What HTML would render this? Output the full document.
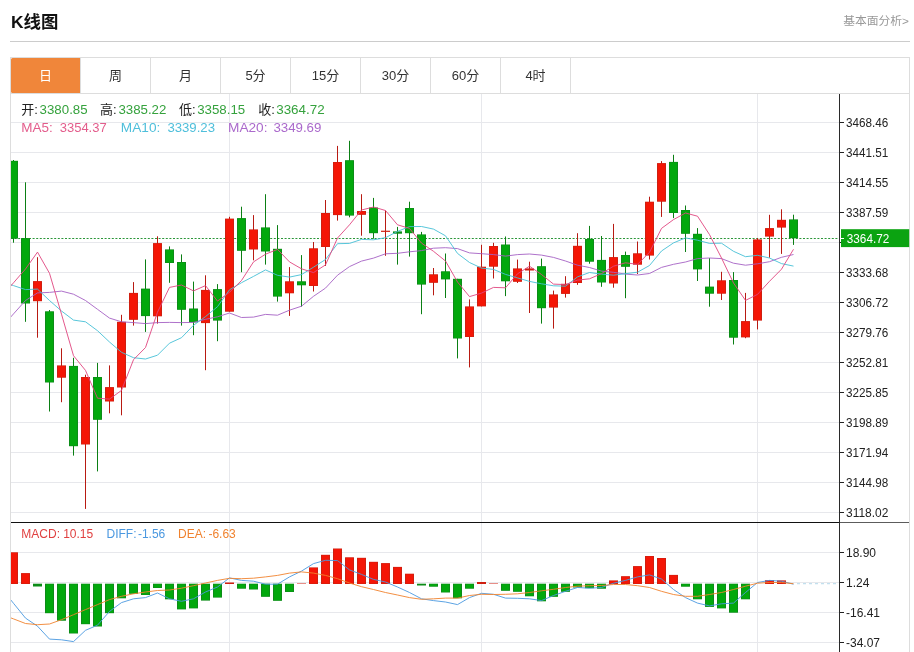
<!DOCTYPE html>
<html lang="zh"><head><meta charset="utf-8"><title>K线图</title>
<style>
html,body{margin:0;padding:0;background:#fff;}
body{width:914px;height:652px;overflow:hidden;position:relative;font-family:"Liberation Sans","Noto Sans CJK SC",sans-serif;}
.title{position:absolute;left:11px;top:11px;font-size:17.4px;font-weight:bold;color:#111;line-height:22px;white-space:nowrap;}
.more{position:absolute;right:5px;top:12px;font-size:11.8px;color:#999;line-height:18px;white-space:nowrap;}
.hr{position:absolute;left:10px;top:41px;width:900px;height:1px;background:#ccc;}
.box{position:absolute;left:10px;top:57px;width:898px;height:600px;border:1px solid #ddd;}
.tabs{position:absolute;left:0;top:0;width:898px;height:35px;border-bottom:1px solid #ddd;}
.tab{position:absolute;top:0;width:69px;height:35px;border-right:1px solid #ddd;text-align:center;line-height:36px;font-size:13px;color:#333;}
.tab.on{color:#fff;}
.onbg{position:absolute;left:0;top:-0.5px;width:69px;height:35.3px;background:#f0863a;border-radius:1.5px 0 0 1.5px;}
svg{position:absolute;left:0;top:0;}
.ax{font-family:"Liberation Sans",sans-serif;font-size:12px;fill:#222;}
.inf{font-family:"Liberation Sans","Noto Sans CJK SC",sans-serif;font-size:13px;}
.inf3{font-family:"Liberation Sans","Noto Sans CJK SC",sans-serif;font-size:13.5px;}
.inf2{font-family:"Liberation Sans","Noto Sans CJK SC",sans-serif;font-size:12px;}
</style></head><body>
<div class="title">K线图</div>
<div class="more">基本面分析&gt;</div>
<div class="hr"></div>
<div class="box"><div class="tabs"><div class="onbg"></div><div class="tab on" style="left:0px">日</div><div class="tab" style="left:70px">周</div><div class="tab" style="left:140px">月</div><div class="tab" style="left:210px">5分</div><div class="tab" style="left:280px">15分</div><div class="tab" style="left:350px">30分</div><div class="tab" style="left:420px">60分</div><div class="tab" style="left:490px">4时</div></div></div>
<svg width="914" height="652" viewBox="0 0 914 652">
<defs><clipPath id="cl"><rect x="11" y="94" width="828" height="558"/></clipPath></defs>
<rect x="11" y="122" width="828" height="1" fill="#e7e8ec"/>
<rect x="11" y="152" width="828" height="1" fill="#e7e8ec"/>
<rect x="11" y="182" width="828" height="1" fill="#e7e8ec"/>
<rect x="11" y="212" width="828" height="1" fill="#e7e8ec"/>
<rect x="11" y="242" width="828" height="1" fill="#e7e8ec"/>
<rect x="11" y="272" width="828" height="1" fill="#e7e8ec"/>
<rect x="11" y="302" width="828" height="1" fill="#e7e8ec"/>
<rect x="11" y="332" width="828" height="1" fill="#e7e8ec"/>
<rect x="11" y="362" width="828" height="1" fill="#e7e8ec"/>
<rect x="11" y="392" width="828" height="1" fill="#e7e8ec"/>
<rect x="11" y="422" width="828" height="1" fill="#e7e8ec"/>
<rect x="11" y="452" width="828" height="1" fill="#e7e8ec"/>
<rect x="11" y="482" width="828" height="1" fill="#e7e8ec"/>
<rect x="11" y="512" width="828" height="1" fill="#e7e8ec"/>
<rect x="11" y="552" width="828" height="1" fill="#e7e8ec"/>
<rect x="11" y="582" width="828" height="1" fill="#e7e8ec"/>
<rect x="11" y="612" width="828" height="1" fill="#e7e8ec"/>
<rect x="11" y="642" width="828" height="1" fill="#e7e8ec"/>
<rect x="229" y="94" width="1" height="558" fill="#e7e8ec"/>
<rect x="481" y="94" width="1" height="558" fill="#e7e8ec"/>
<rect x="757" y="94" width="1" height="558" fill="#e7e8ec"/>
<line x1="11" y1="238.5" x2="840" y2="238.5" stroke="#2a9638" stroke-width="1" stroke-dasharray="2 1.6"/>
<g clip-path="url(#cl)">
<rect x="13.0" y="160.0" width="1" height="82.7" fill="#0b7f14"/>
<rect x="9.0" y="160.8" width="9" height="77.8" fill="#0c8c18"/>
<rect x="10.0" y="161.4" width="7" height="76.6" fill="#02a80d"/>
<rect x="25.0" y="182.3" width="1" height="139.5" fill="#0b7f14"/>
<rect x="21.0" y="238.1" width="9" height="65.4" fill="#0c8c18"/>
<rect x="22.0" y="238.7" width="7" height="64.2" fill="#02a80d"/>
<rect x="37.0" y="257.2" width="1" height="80.5" fill="#b81a12"/>
<rect x="33.0" y="281.1" width="9" height="20.1" fill="#cf1f10"/>
<rect x="34.0" y="281.7" width="7" height="18.9" fill="#f41606"/>
<rect x="49.0" y="310.0" width="1" height="101.5" fill="#0b7f14"/>
<rect x="45.0" y="311.3" width="9" height="71.2" fill="#0c8c18"/>
<rect x="46.0" y="311.9" width="7" height="70.0" fill="#02a80d"/>
<rect x="61.0" y="348.3" width="1" height="53.9" fill="#b81a12"/>
<rect x="57.0" y="365.4" width="9" height="12.3" fill="#cf1f10"/>
<rect x="58.0" y="366.0" width="7" height="11.1" fill="#f41606"/>
<rect x="73.0" y="357.8" width="1" height="97.8" fill="#0b7f14"/>
<rect x="69.0" y="365.9" width="9" height="80.3" fill="#0c8c18"/>
<rect x="70.0" y="366.5" width="7" height="79.1" fill="#02a80d"/>
<rect x="85.0" y="374.7" width="1" height="134.2" fill="#b81a12"/>
<rect x="81.0" y="377.0" width="9" height="67.5" fill="#cf1f10"/>
<rect x="82.0" y="377.6" width="7" height="66.3" fill="#f41606"/>
<rect x="97.0" y="362.9" width="1" height="108.5" fill="#0b7f14"/>
<rect x="93.0" y="377.0" width="9" height="42.8" fill="#0c8c18"/>
<rect x="94.0" y="377.6" width="7" height="41.6" fill="#02a80d"/>
<rect x="109.0" y="365.4" width="1" height="47.9" fill="#b81a12"/>
<rect x="105.0" y="387.1" width="9" height="14.4" fill="#cf1f10"/>
<rect x="106.0" y="387.7" width="7" height="13.2" fill="#f41606"/>
<rect x="121.0" y="314.8" width="1" height="100.5" fill="#b81a12"/>
<rect x="117.0" y="321.8" width="9" height="65.7" fill="#cf1f10"/>
<rect x="118.0" y="322.4" width="7" height="64.5" fill="#f41606"/>
<rect x="133.0" y="282.1" width="1" height="43.5" fill="#b81a12"/>
<rect x="129.0" y="292.9" width="9" height="26.9" fill="#cf1f10"/>
<rect x="130.0" y="293.5" width="7" height="25.7" fill="#f41606"/>
<rect x="145.0" y="259.4" width="1" height="72.5" fill="#0b7f14"/>
<rect x="141.0" y="288.6" width="9" height="27.5" fill="#0c8c18"/>
<rect x="142.0" y="289.2" width="7" height="26.3" fill="#02a80d"/>
<rect x="157.0" y="236.3" width="1" height="87.3" fill="#b81a12"/>
<rect x="153.0" y="243.1" width="9" height="73.2" fill="#cf1f10"/>
<rect x="154.0" y="243.7" width="7" height="72.0" fill="#f41606"/>
<rect x="169.0" y="246.4" width="1" height="36.4" fill="#0b7f14"/>
<rect x="165.0" y="249.4" width="9" height="13.6" fill="#0c8c18"/>
<rect x="166.0" y="250.0" width="7" height="12.4" fill="#02a80d"/>
<rect x="181.0" y="254.4" width="1" height="71.2" fill="#0b7f14"/>
<rect x="177.0" y="262.0" width="9" height="47.8" fill="#0c8c18"/>
<rect x="178.0" y="262.6" width="7" height="46.6" fill="#02a80d"/>
<rect x="193.0" y="281.6" width="1" height="53.6" fill="#0b7f14"/>
<rect x="189.0" y="308.5" width="9" height="13.9" fill="#0c8c18"/>
<rect x="190.0" y="309.1" width="7" height="12.7" fill="#02a80d"/>
<rect x="205.0" y="275.3" width="1" height="94.9" fill="#b81a12"/>
<rect x="201.0" y="289.9" width="9" height="33.2" fill="#cf1f10"/>
<rect x="202.0" y="290.5" width="7" height="32.0" fill="#f41606"/>
<rect x="217.0" y="284.1" width="1" height="57.1" fill="#0b7f14"/>
<rect x="213.0" y="289.1" width="9" height="31.5" fill="#0c8c18"/>
<rect x="214.0" y="289.7" width="7" height="30.3" fill="#02a80d"/>
<rect x="229.0" y="216.8" width="1" height="94.9" fill="#b81a12"/>
<rect x="225.0" y="218.6" width="9" height="93.1" fill="#cf1f10"/>
<rect x="226.0" y="219.2" width="7" height="91.9" fill="#f41606"/>
<rect x="241.0" y="206.7" width="1" height="65.5" fill="#0b7f14"/>
<rect x="237.0" y="218.1" width="9" height="32.7" fill="#0c8c18"/>
<rect x="238.0" y="218.7" width="7" height="31.5" fill="#02a80d"/>
<rect x="253.0" y="215.1" width="1" height="45.2" fill="#b81a12"/>
<rect x="249.0" y="229.4" width="9" height="20.1" fill="#cf1f10"/>
<rect x="250.0" y="230.0" width="7" height="18.9" fill="#f41606"/>
<rect x="265.0" y="194.2" width="1" height="70.4" fill="#0b7f14"/>
<rect x="261.0" y="227.4" width="9" height="24.1" fill="#0c8c18"/>
<rect x="262.0" y="228.0" width="7" height="22.9" fill="#02a80d"/>
<rect x="277.0" y="225.1" width="1" height="76.5" fill="#0b7f14"/>
<rect x="273.0" y="248.8" width="9" height="47.8" fill="#0c8c18"/>
<rect x="274.0" y="249.4" width="7" height="46.6" fill="#02a80d"/>
<rect x="289.0" y="267.1" width="1" height="48.8" fill="#b81a12"/>
<rect x="285.0" y="281.3" width="9" height="12.0" fill="#cf1f10"/>
<rect x="286.0" y="281.9" width="7" height="10.8" fill="#f41606"/>
<rect x="301.0" y="255.1" width="1" height="51.5" fill="#0b7f14"/>
<rect x="297.0" y="281.3" width="9" height="4.0" fill="#0c8c18"/>
<rect x="298.0" y="281.9" width="7" height="2.8" fill="#02a80d"/>
<rect x="313.0" y="242.0" width="1" height="49.5" fill="#b81a12"/>
<rect x="309.0" y="248.3" width="9" height="37.7" fill="#cf1f10"/>
<rect x="310.0" y="248.9" width="7" height="36.5" fill="#f41606"/>
<rect x="325.0" y="200.0" width="1" height="65.9" fill="#b81a12"/>
<rect x="321.0" y="213.0" width="9" height="34.0" fill="#cf1f10"/>
<rect x="322.0" y="213.6" width="7" height="32.8" fill="#f41606"/>
<rect x="337.0" y="145.9" width="1" height="74.7" fill="#b81a12"/>
<rect x="333.0" y="162.0" width="9" height="53.1" fill="#cf1f10"/>
<rect x="334.0" y="162.6" width="7" height="51.9" fill="#f41606"/>
<rect x="349.0" y="140.8" width="1" height="76.5" fill="#0b7f14"/>
<rect x="345.0" y="160.2" width="9" height="55.4" fill="#0c8c18"/>
<rect x="346.0" y="160.8" width="7" height="54.2" fill="#02a80d"/>
<rect x="361.0" y="194.2" width="1" height="41.5" fill="#b81a12"/>
<rect x="357.0" y="211.0" width="9" height="3.8" fill="#cf1f10"/>
<rect x="358.0" y="211.6" width="7" height="2.6" fill="#f41606"/>
<rect x="373.0" y="197.9" width="1" height="40.8" fill="#0b7f14"/>
<rect x="369.0" y="207.5" width="9" height="25.7" fill="#0c8c18"/>
<rect x="370.0" y="208.1" width="7" height="24.5" fill="#02a80d"/>
<rect x="385.0" y="210.5" width="1" height="45.3" fill="#b81a12"/>
<rect x="381.0" y="230.7" width="9" height="1.2" fill="#cf1f10"/>
<rect x="397.0" y="226.9" width="1" height="37.7" fill="#0b7f14"/>
<rect x="393.0" y="231.4" width="9" height="2.3" fill="#0c8c18"/>
<rect x="409.0" y="201.7" width="1" height="54.9" fill="#0b7f14"/>
<rect x="405.0" y="208.0" width="9" height="25.2" fill="#0c8c18"/>
<rect x="406.0" y="208.6" width="7" height="24.0" fill="#02a80d"/>
<rect x="421.0" y="231.9" width="1" height="82.3" fill="#0b7f14"/>
<rect x="417.0" y="234.4" width="9" height="50.2" fill="#0c8c18"/>
<rect x="418.0" y="235.0" width="7" height="49.0" fill="#02a80d"/>
<rect x="433.0" y="268.0" width="1" height="27.3" fill="#b81a12"/>
<rect x="429.0" y="274.3" width="9" height="8.5" fill="#cf1f10"/>
<rect x="430.0" y="274.9" width="7" height="7.3" fill="#f41606"/>
<rect x="445.0" y="253.5" width="1" height="44.5" fill="#0b7f14"/>
<rect x="441.0" y="271.3" width="9" height="8.1" fill="#0c8c18"/>
<rect x="442.0" y="271.9" width="7" height="6.9" fill="#02a80d"/>
<rect x="457.0" y="278.8" width="1" height="79.6" fill="#0b7f14"/>
<rect x="453.0" y="278.8" width="9" height="59.7" fill="#0c8c18"/>
<rect x="454.0" y="279.4" width="7" height="58.5" fill="#02a80d"/>
<rect x="469.0" y="299.4" width="1" height="68.0" fill="#b81a12"/>
<rect x="465.0" y="306.4" width="9" height="30.6" fill="#cf1f10"/>
<rect x="466.0" y="307.0" width="7" height="29.4" fill="#f41606"/>
<rect x="481.0" y="244.8" width="1" height="61.6" fill="#b81a12"/>
<rect x="477.0" y="266.7" width="9" height="39.7" fill="#cf1f10"/>
<rect x="478.0" y="267.3" width="7" height="38.5" fill="#f41606"/>
<rect x="493.0" y="242.8" width="1" height="35.7" fill="#b81a12"/>
<rect x="489.0" y="246.0" width="9" height="20.7" fill="#cf1f10"/>
<rect x="490.0" y="246.6" width="7" height="19.5" fill="#f41606"/>
<rect x="505.0" y="236.5" width="1" height="59.6" fill="#0b7f14"/>
<rect x="501.0" y="244.5" width="9" height="36.8" fill="#0c8c18"/>
<rect x="502.0" y="245.1" width="7" height="35.6" fill="#02a80d"/>
<rect x="517.0" y="259.6" width="1" height="23.4" fill="#b81a12"/>
<rect x="513.0" y="268.4" width="9" height="13.4" fill="#cf1f10"/>
<rect x="514.0" y="269.0" width="7" height="12.2" fill="#f41606"/>
<rect x="529.0" y="261.7" width="1" height="51.3" fill="#b81a12"/>
<rect x="525.0" y="268.4" width="9" height="2.1" fill="#cf1f10"/>
<rect x="541.0" y="258.6" width="1" height="65.0" fill="#0b7f14"/>
<rect x="537.0" y="266.2" width="9" height="42.0" fill="#0c8c18"/>
<rect x="538.0" y="266.8" width="7" height="40.8" fill="#02a80d"/>
<rect x="553.0" y="290.6" width="1" height="38.0" fill="#b81a12"/>
<rect x="549.0" y="294.4" width="9" height="13.2" fill="#cf1f10"/>
<rect x="550.0" y="295.0" width="7" height="12.0" fill="#f41606"/>
<rect x="565.0" y="276.2" width="1" height="21.4" fill="#b81a12"/>
<rect x="561.0" y="283.8" width="9" height="10.1" fill="#cf1f10"/>
<rect x="562.0" y="284.4" width="7" height="8.9" fill="#f41606"/>
<rect x="577.0" y="233.2" width="1" height="51.6" fill="#b81a12"/>
<rect x="573.0" y="245.8" width="9" height="37.2" fill="#cf1f10"/>
<rect x="574.0" y="246.4" width="7" height="36.0" fill="#f41606"/>
<rect x="589.0" y="225.9" width="1" height="37.8" fill="#0b7f14"/>
<rect x="585.0" y="239.0" width="9" height="22.7" fill="#0c8c18"/>
<rect x="586.0" y="239.6" width="7" height="21.5" fill="#02a80d"/>
<rect x="601.0" y="236.0" width="1" height="50.8" fill="#0b7f14"/>
<rect x="597.0" y="259.9" width="9" height="22.6" fill="#0c8c18"/>
<rect x="598.0" y="260.5" width="7" height="21.4" fill="#02a80d"/>
<rect x="613.0" y="223.9" width="1" height="63.8" fill="#b81a12"/>
<rect x="609.0" y="257.1" width="9" height="26.4" fill="#cf1f10"/>
<rect x="610.0" y="257.7" width="7" height="25.2" fill="#f41606"/>
<rect x="625.0" y="251.6" width="1" height="46.6" fill="#0b7f14"/>
<rect x="621.0" y="255.0" width="9" height="11.8" fill="#0c8c18"/>
<rect x="622.0" y="255.6" width="7" height="10.6" fill="#02a80d"/>
<rect x="637.0" y="241.5" width="1" height="32.5" fill="#b81a12"/>
<rect x="633.0" y="253.3" width="9" height="11.4" fill="#cf1f10"/>
<rect x="634.0" y="253.9" width="7" height="10.2" fill="#f41606"/>
<rect x="649.0" y="196.7" width="1" height="62.8" fill="#b81a12"/>
<rect x="645.0" y="201.7" width="9" height="53.9" fill="#cf1f10"/>
<rect x="646.0" y="202.3" width="7" height="52.7" fill="#f41606"/>
<rect x="661.0" y="161.1" width="1" height="55.8" fill="#b81a12"/>
<rect x="657.0" y="163.1" width="9" height="38.6" fill="#cf1f10"/>
<rect x="658.0" y="163.7" width="7" height="37.4" fill="#f41606"/>
<rect x="673.0" y="154.8" width="1" height="63.3" fill="#0b7f14"/>
<rect x="669.0" y="161.9" width="9" height="51.1" fill="#0c8c18"/>
<rect x="670.0" y="162.5" width="7" height="49.9" fill="#02a80d"/>
<rect x="685.0" y="205.5" width="1" height="46.5" fill="#0b7f14"/>
<rect x="681.0" y="210.0" width="9" height="23.8" fill="#0c8c18"/>
<rect x="682.0" y="210.6" width="7" height="22.6" fill="#02a80d"/>
<rect x="697.0" y="228.1" width="1" height="52.9" fill="#0b7f14"/>
<rect x="693.0" y="233.8" width="9" height="35.6" fill="#0c8c18"/>
<rect x="694.0" y="234.4" width="7" height="34.4" fill="#02a80d"/>
<rect x="709.0" y="258.1" width="1" height="48.6" fill="#0b7f14"/>
<rect x="705.0" y="286.6" width="9" height="7.1" fill="#0c8c18"/>
<rect x="706.0" y="287.2" width="7" height="5.9" fill="#02a80d"/>
<rect x="721.0" y="271.8" width="1" height="28.2" fill="#b81a12"/>
<rect x="717.0" y="280.3" width="9" height="13.4" fill="#cf1f10"/>
<rect x="718.0" y="280.9" width="7" height="12.2" fill="#f41606"/>
<rect x="733.0" y="272.1" width="1" height="72.4" fill="#0b7f14"/>
<rect x="729.0" y="280.0" width="9" height="57.7" fill="#0c8c18"/>
<rect x="730.0" y="280.6" width="7" height="56.5" fill="#02a80d"/>
<rect x="745.0" y="292.9" width="1" height="45.3" fill="#b81a12"/>
<rect x="741.0" y="321.1" width="9" height="16.3" fill="#cf1f10"/>
<rect x="742.0" y="321.7" width="7" height="15.1" fill="#f41606"/>
<rect x="757.0" y="238.0" width="1" height="91.4" fill="#b81a12"/>
<rect x="753.0" y="239.4" width="9" height="81.2" fill="#cf1f10"/>
<rect x="754.0" y="240.0" width="7" height="80.0" fill="#f41606"/>
<rect x="769.0" y="214.8" width="1" height="42.9" fill="#b81a12"/>
<rect x="765.0" y="228.1" width="9" height="8.5" fill="#cf1f10"/>
<rect x="766.0" y="228.7" width="7" height="7.3" fill="#f41606"/>
<rect x="781.0" y="209.3" width="1" height="44.6" fill="#b81a12"/>
<rect x="777.0" y="219.8" width="9" height="7.8" fill="#cf1f10"/>
<rect x="778.0" y="220.4" width="7" height="6.6" fill="#f41606"/>
<rect x="793.0" y="214.7" width="1" height="30.2" fill="#0b7f14"/>
<rect x="789.0" y="219.4" width="9" height="18.8" fill="#0c8c18"/>
<rect x="790.0" y="220.0" width="7" height="17.6" fill="#02a80d"/>
<polyline points="1.5,327.3 13.5,313.9 25.5,300.5 37.5,292.9 49.5,292.4 61.5,291.1 73.5,294.2 85.5,300.5 97.5,309.3 109.5,318.1 121.5,321.8 133.5,322.6 145.5,323.6 157.5,322.6 169.5,322.4 181.5,322.6 193.5,322.4 205.5,319.3 217.5,316.8 229.5,313.0 241.5,317.5 253.5,317.1 265.5,314.4 277.5,315.2 289.5,310.2 301.5,306.2 313.5,296.3 325.5,288.1 337.5,275.2 349.5,266.6 361.5,261.1 373.5,258.1 385.5,253.8 397.5,253.3 409.5,251.8 421.5,250.6 433.5,248.2 445.5,247.7 457.5,248.6 469.5,252.9 481.5,253.7 493.5,254.6 505.5,256.1 517.5,254.6 529.5,254.0 541.5,255.1 553.5,257.4 565.5,261.0 577.5,265.2 589.5,267.5 601.5,271.1 613.5,272.3 625.5,274.1 637.5,275.0 649.5,273.5 661.5,267.4 673.5,264.3 685.5,262.0 697.5,258.6 709.5,258.0 721.5,258.6 733.5,263.2 745.5,265.2 757.5,263.8 769.5,261.7 781.5,257.3 793.5,254.5" fill="none" stroke="#a561c4" stroke-width="0.9" stroke-linejoin="round"/>
<polyline points="1.5,281.6 13.5,285.6 25.5,289.6 37.5,289.1 49.5,300.5 61.5,311.0 73.5,320.1 85.5,321.8 97.5,330.7 109.5,342.0 121.5,352.3 133.5,357.7 145.5,359.0 157.5,355.2 169.5,343.2 181.5,337.7 193.5,325.3 205.5,316.6 217.5,306.7 229.5,289.8 241.5,282.7 253.5,276.4 265.5,269.9 277.5,275.3 289.5,277.1 301.5,274.6 313.5,267.2 325.5,259.5 337.5,243.7 349.5,243.4 361.5,239.4 373.5,239.8 385.5,237.7 397.5,231.4 409.5,226.6 421.5,226.5 433.5,229.1 445.5,235.8 457.5,253.4 469.5,262.5 481.5,268.1 493.5,269.4 505.5,274.4 517.5,277.9 529.5,281.4 541.5,283.8 553.5,285.8 565.5,286.2 577.5,276.9 589.5,272.5 601.5,274.1 613.5,275.2 625.5,273.7 637.5,272.2 649.5,265.5 661.5,251.0 673.5,242.9 685.5,237.9 697.5,240.2 709.5,243.4 721.5,243.2 733.5,251.3 745.5,256.7 757.5,255.3 769.5,258.0 781.5,263.6 793.5,266.1" fill="none" stroke="#45bfd6" stroke-width="0.9" stroke-linejoin="round"/>
<polyline points="1.5,296.6 13.5,282.8 25.5,269.0 37.5,252.1 49.5,273.3 61.5,314.2 73.5,355.7 85.5,370.4 97.5,398.2 109.5,399.1 121.5,390.4 133.5,359.7 145.5,347.5 157.5,312.2 169.5,287.4 181.5,285.0 193.5,290.9 205.5,285.6 217.5,301.1 229.5,292.3 241.5,280.5 253.5,261.9 265.5,254.2 277.5,249.4 289.5,261.9 301.5,268.8 313.5,272.6 325.5,264.9 337.5,238.0 349.5,224.8 361.5,210.0 373.5,207.0 385.5,210.5 397.5,224.8 409.5,228.4 421.5,243.1 433.5,251.3 445.5,261.0 457.5,282.0 469.5,296.6 481.5,293.1 493.5,287.4 505.5,287.8 517.5,273.8 529.5,266.2 541.5,274.5 553.5,284.1 565.5,284.6 577.5,280.1 589.5,278.8 601.5,273.6 613.5,266.2 625.5,262.8 637.5,264.3 649.5,252.3 661.5,228.4 673.5,219.6 685.5,213.0 697.5,216.2 709.5,234.6 721.5,258.0 733.5,283.0 745.5,300.4 757.5,294.4 769.5,281.3 781.5,269.2 793.5,249.3" fill="none" stroke="#e0457f" stroke-width="0.9" stroke-linejoin="round"/>
<rect x="9.0" y="552.3" width="9" height="31.7" fill="#cf1f10"/>
<rect x="10.0" y="552.9" width="7" height="30.5" fill="#f41606"/>
<rect x="21.0" y="573.1" width="9" height="10.9" fill="#cf1f10"/>
<rect x="22.0" y="573.7" width="7" height="9.7" fill="#f41606"/>
<rect x="33.0" y="583.7" width="9" height="2.8" fill="#0c8c18"/>
<rect x="45.0" y="583.7" width="9" height="29.5" fill="#0c8c18"/>
<rect x="46.0" y="584.3" width="7" height="28.3" fill="#02a80d"/>
<rect x="57.0" y="583.7" width="9" height="37.0" fill="#0c8c18"/>
<rect x="58.0" y="584.3" width="7" height="35.8" fill="#02a80d"/>
<rect x="69.0" y="583.7" width="9" height="49.8" fill="#0c8c18"/>
<rect x="70.0" y="584.3" width="7" height="48.6" fill="#02a80d"/>
<rect x="81.0" y="583.7" width="9" height="40.5" fill="#0c8c18"/>
<rect x="82.0" y="584.3" width="7" height="39.3" fill="#02a80d"/>
<rect x="93.0" y="583.7" width="9" height="42.8" fill="#0c8c18"/>
<rect x="94.0" y="584.3" width="7" height="41.6" fill="#02a80d"/>
<rect x="105.0" y="583.7" width="9" height="29.5" fill="#0c8c18"/>
<rect x="106.0" y="584.3" width="7" height="28.3" fill="#02a80d"/>
<rect x="117.0" y="583.7" width="9" height="14.6" fill="#0c8c18"/>
<rect x="118.0" y="584.3" width="7" height="13.4" fill="#02a80d"/>
<rect x="129.0" y="583.7" width="9" height="10.1" fill="#0c8c18"/>
<rect x="130.0" y="584.3" width="7" height="8.9" fill="#02a80d"/>
<rect x="141.0" y="583.7" width="9" height="11.3" fill="#0c8c18"/>
<rect x="142.0" y="584.3" width="7" height="10.1" fill="#02a80d"/>
<rect x="153.0" y="583.7" width="9" height="4.3" fill="#0c8c18"/>
<rect x="154.0" y="584.3" width="7" height="3.1" fill="#02a80d"/>
<rect x="165.0" y="583.7" width="9" height="15.6" fill="#0c8c18"/>
<rect x="166.0" y="584.3" width="7" height="14.4" fill="#02a80d"/>
<rect x="177.0" y="583.7" width="9" height="25.7" fill="#0c8c18"/>
<rect x="178.0" y="584.3" width="7" height="24.5" fill="#02a80d"/>
<rect x="189.0" y="583.7" width="9" height="24.7" fill="#0c8c18"/>
<rect x="190.0" y="584.3" width="7" height="23.5" fill="#02a80d"/>
<rect x="201.0" y="583.7" width="9" height="16.9" fill="#0c8c18"/>
<rect x="202.0" y="584.3" width="7" height="15.7" fill="#02a80d"/>
<rect x="213.0" y="583.7" width="9" height="13.9" fill="#0c8c18"/>
<rect x="214.0" y="584.3" width="7" height="12.7" fill="#02a80d"/>
<rect x="225.0" y="582.5" width="9" height="1.5" fill="#cf1f10"/>
<rect x="237.0" y="583.7" width="9" height="5.0" fill="#0c8c18"/>
<rect x="238.0" y="584.3" width="7" height="3.8" fill="#02a80d"/>
<rect x="249.0" y="583.7" width="9" height="5.8" fill="#0c8c18"/>
<rect x="250.0" y="584.3" width="7" height="4.6" fill="#02a80d"/>
<rect x="261.0" y="583.7" width="9" height="13.1" fill="#0c8c18"/>
<rect x="262.0" y="584.3" width="7" height="11.9" fill="#02a80d"/>
<rect x="273.0" y="583.7" width="9" height="17.1" fill="#0c8c18"/>
<rect x="274.0" y="584.3" width="7" height="15.9" fill="#02a80d"/>
<rect x="285.0" y="583.7" width="9" height="8.3" fill="#0c8c18"/>
<rect x="286.0" y="584.3" width="7" height="7.1" fill="#02a80d"/>
<rect x="297.0" y="583.5" width="9" height="0.5" fill="#cf1f10"/>
<rect x="309.0" y="567.4" width="9" height="16.6" fill="#cf1f10"/>
<rect x="310.0" y="568.0" width="7" height="15.4" fill="#f41606"/>
<rect x="321.0" y="554.8" width="9" height="29.2" fill="#cf1f10"/>
<rect x="322.0" y="555.4" width="7" height="28.0" fill="#f41606"/>
<rect x="333.0" y="548.5" width="9" height="35.5" fill="#cf1f10"/>
<rect x="334.0" y="549.1" width="7" height="34.3" fill="#f41606"/>
<rect x="345.0" y="557.3" width="9" height="26.7" fill="#cf1f10"/>
<rect x="346.0" y="557.9" width="7" height="25.5" fill="#f41606"/>
<rect x="357.0" y="557.8" width="9" height="26.2" fill="#cf1f10"/>
<rect x="358.0" y="558.4" width="7" height="25.0" fill="#f41606"/>
<rect x="369.0" y="561.8" width="9" height="22.2" fill="#cf1f10"/>
<rect x="370.0" y="562.4" width="7" height="21.0" fill="#f41606"/>
<rect x="381.0" y="563.1" width="9" height="20.9" fill="#cf1f10"/>
<rect x="382.0" y="563.7" width="7" height="19.7" fill="#f41606"/>
<rect x="393.0" y="566.9" width="9" height="17.1" fill="#cf1f10"/>
<rect x="394.0" y="567.5" width="7" height="15.9" fill="#f41606"/>
<rect x="405.0" y="573.7" width="9" height="10.3" fill="#cf1f10"/>
<rect x="406.0" y="574.3" width="7" height="9.1" fill="#f41606"/>
<rect x="417.0" y="583.7" width="9" height="1.8" fill="#0c8c18"/>
<rect x="429.0" y="583.7" width="9" height="3.0" fill="#0c8c18"/>
<rect x="430.0" y="584.3" width="7" height="1.8" fill="#02a80d"/>
<rect x="441.0" y="583.7" width="9" height="8.8" fill="#0c8c18"/>
<rect x="442.0" y="584.3" width="7" height="7.6" fill="#02a80d"/>
<rect x="453.0" y="583.7" width="9" height="14.6" fill="#0c8c18"/>
<rect x="454.0" y="584.3" width="7" height="13.4" fill="#02a80d"/>
<rect x="465.0" y="583.7" width="9" height="5.0" fill="#0c8c18"/>
<rect x="466.0" y="584.3" width="7" height="3.8" fill="#02a80d"/>
<rect x="477.0" y="582.0" width="9" height="2.0" fill="#cf1f10"/>
<rect x="489.0" y="583.5" width="9" height="0.5" fill="#cf1f10"/>
<rect x="501.0" y="583.7" width="9" height="7.1" fill="#0c8c18"/>
<rect x="502.0" y="584.3" width="7" height="5.9" fill="#02a80d"/>
<rect x="513.0" y="583.7" width="9" height="8.1" fill="#0c8c18"/>
<rect x="514.0" y="584.3" width="7" height="6.9" fill="#02a80d"/>
<rect x="525.0" y="583.7" width="9" height="12.6" fill="#0c8c18"/>
<rect x="526.0" y="584.3" width="7" height="11.4" fill="#02a80d"/>
<rect x="537.0" y="583.7" width="9" height="17.6" fill="#0c8c18"/>
<rect x="538.0" y="584.3" width="7" height="16.4" fill="#02a80d"/>
<rect x="549.0" y="583.7" width="9" height="13.1" fill="#0c8c18"/>
<rect x="550.0" y="584.3" width="7" height="11.9" fill="#02a80d"/>
<rect x="561.0" y="583.7" width="9" height="8.1" fill="#0c8c18"/>
<rect x="562.0" y="584.3" width="7" height="6.9" fill="#02a80d"/>
<rect x="573.0" y="583.7" width="9" height="3.8" fill="#0c8c18"/>
<rect x="574.0" y="584.3" width="7" height="2.6" fill="#02a80d"/>
<rect x="585.0" y="583.7" width="9" height="4.5" fill="#0c8c18"/>
<rect x="586.0" y="584.3" width="7" height="3.3" fill="#02a80d"/>
<rect x="597.0" y="583.7" width="9" height="5.0" fill="#0c8c18"/>
<rect x="598.0" y="584.3" width="7" height="3.8" fill="#02a80d"/>
<rect x="609.0" y="580.4" width="9" height="3.6" fill="#cf1f10"/>
<rect x="610.0" y="581.0" width="7" height="2.4" fill="#f41606"/>
<rect x="621.0" y="576.2" width="9" height="7.8" fill="#cf1f10"/>
<rect x="622.0" y="576.8" width="7" height="6.6" fill="#f41606"/>
<rect x="633.0" y="566.1" width="9" height="17.9" fill="#cf1f10"/>
<rect x="634.0" y="566.7" width="7" height="16.7" fill="#f41606"/>
<rect x="645.0" y="556.0" width="9" height="28.0" fill="#cf1f10"/>
<rect x="646.0" y="556.6" width="7" height="26.8" fill="#f41606"/>
<rect x="657.0" y="558.0" width="9" height="26.0" fill="#cf1f10"/>
<rect x="658.0" y="558.6" width="7" height="24.8" fill="#f41606"/>
<rect x="669.0" y="574.9" width="9" height="9.1" fill="#cf1f10"/>
<rect x="670.0" y="575.5" width="7" height="7.9" fill="#f41606"/>
<rect x="681.0" y="583.7" width="9" height="3.0" fill="#0c8c18"/>
<rect x="682.0" y="584.3" width="7" height="1.8" fill="#02a80d"/>
<rect x="693.0" y="583.7" width="9" height="15.6" fill="#0c8c18"/>
<rect x="694.0" y="584.3" width="7" height="14.4" fill="#02a80d"/>
<rect x="705.0" y="583.7" width="9" height="23.2" fill="#0c8c18"/>
<rect x="706.0" y="584.3" width="7" height="22.0" fill="#02a80d"/>
<rect x="717.0" y="583.7" width="9" height="24.7" fill="#0c8c18"/>
<rect x="718.0" y="584.3" width="7" height="23.5" fill="#02a80d"/>
<rect x="729.0" y="583.7" width="9" height="29.0" fill="#0c8c18"/>
<rect x="730.0" y="584.3" width="7" height="27.8" fill="#02a80d"/>
<rect x="741.0" y="583.7" width="9" height="15.6" fill="#0c8c18"/>
<rect x="742.0" y="584.3" width="7" height="14.4" fill="#02a80d"/>
<rect x="765.0" y="580.2" width="9" height="3.8" fill="#cf1f10"/>
<rect x="766.0" y="580.8" width="7" height="2.6" fill="#f41606"/>
<rect x="777.0" y="580.4" width="9" height="3.6" fill="#cf1f10"/>
<rect x="778.0" y="581.0" width="7" height="2.4" fill="#f41606"/>
<polyline points="1.5,588.5 13.5,603.3 25.5,618.1 37.5,626.2 49.5,639.1 61.5,639.8 73.5,641.6 85.5,630.3 97.5,625.2 109.5,611.4 121.5,602.6 133.5,598.8 145.5,597.6 157.5,593.0 169.5,598.8 181.5,601.3 193.5,598.8 205.5,592.0 217.5,587.0 229.5,577.9 241.5,580.4 253.5,581.2 265.5,584.2 277.5,584.2 289.5,576.9 301.5,571.1 313.5,563.6 325.5,560.3 337.5,560.6 349.5,569.9 361.5,574.4 373.5,579.4 385.5,582.0 397.5,587.0 409.5,592.5 421.5,598.8 433.5,600.6 445.5,602.0 457.5,604.6 469.5,597.6 481.5,593.3 493.5,594.3 505.5,598.1 517.5,598.3 529.5,598.8 541.5,600.6 553.5,595.5 565.5,591.3 577.5,587.5 589.5,588.2 601.5,587.5 613.5,583.2 625.5,580.4 637.5,576.9 649.5,574.9 661.5,579.0 673.5,589.5 685.5,597.6 697.5,603.1 709.5,605.9 721.5,603.8 733.5,603.1 745.5,592.5 757.5,582.5 769.5,580.4 781.5,581.2 793.5,584.2" fill="none" stroke="#4a98e0" stroke-width="0.9" stroke-linejoin="round"/>
<polyline points="1.5,614.3 13.5,618.9 25.5,623.5 37.5,624.7 49.5,624.0 61.5,619.7 73.5,614.7 85.5,609.6 97.5,604.6 109.5,599.6 121.5,596.3 133.5,593.8 145.5,592.0 157.5,590.5 169.5,590.0 181.5,588.2 193.5,585.7 205.5,583.0 217.5,580.4 229.5,578.3 241.5,578.7 253.5,578.2 265.5,576.9 277.5,575.4 289.5,573.1 301.5,571.9 313.5,573.1 325.5,575.4 337.5,578.7 349.5,583.0 361.5,586.7 373.5,589.5 385.5,592.5 397.5,595.0 409.5,597.6 421.5,599.3 433.5,598.8 445.5,598.1 457.5,598.1 469.5,595.5 481.5,594.3 493.5,594.5 505.5,594.3 517.5,593.8 529.5,592.5 541.5,590.8 553.5,589.3 565.5,587.5 577.5,586.2 589.5,585.7 601.5,585.5 613.5,584.5 625.5,584.5 637.5,585.7 649.5,587.5 661.5,591.3 673.5,594.5 685.5,596.3 697.5,596.3 709.5,594.5 721.5,592.5 733.5,589.5 745.5,586.2 757.5,583.2 769.5,582.5 781.5,582.5 793.5,583.7" fill="none" stroke="#f0822e" stroke-width="0.9" stroke-linejoin="round"/>
</g>
<line x1="797" y1="583.7" x2="837" y2="583.7" stroke="#c2e0ee" stroke-width="1.3" stroke-dasharray="3 3"/>
<rect x="11" y="522" width="829" height="1" fill="#111"/>
<rect x="840" y="522.1" width="69" height="0.8" fill="#333"/>
<rect x="839" y="94" width="1" height="558" fill="#2a2a2a"/>
<rect x="840" y="122" width="4" height="1" fill="#222"/>
<text x="846" y="126.8" class="ax" textLength="42.3" lengthAdjust="spacingAndGlyphs">3468.46</text>
<rect x="840" y="152" width="4" height="1" fill="#222"/>
<text x="846" y="156.8" class="ax" textLength="42.3" lengthAdjust="spacingAndGlyphs">3441.51</text>
<rect x="840" y="182" width="4" height="1" fill="#222"/>
<text x="846" y="186.8" class="ax" textLength="42.3" lengthAdjust="spacingAndGlyphs">3414.55</text>
<rect x="840" y="212" width="4" height="1" fill="#222"/>
<text x="846" y="216.8" class="ax" textLength="42.3" lengthAdjust="spacingAndGlyphs">3387.59</text>
<rect x="840" y="242" width="4" height="1" fill="#222"/>
<rect x="840" y="272" width="4" height="1" fill="#222"/>
<text x="846" y="276.8" class="ax" textLength="42.3" lengthAdjust="spacingAndGlyphs">3333.68</text>
<rect x="840" y="302" width="4" height="1" fill="#222"/>
<text x="846" y="306.8" class="ax" textLength="42.3" lengthAdjust="spacingAndGlyphs">3306.72</text>
<rect x="840" y="332" width="4" height="1" fill="#222"/>
<text x="846" y="336.8" class="ax" textLength="42.3" lengthAdjust="spacingAndGlyphs">3279.76</text>
<rect x="840" y="362" width="4" height="1" fill="#222"/>
<text x="846" y="366.8" class="ax" textLength="42.3" lengthAdjust="spacingAndGlyphs">3252.81</text>
<rect x="840" y="392" width="4" height="1" fill="#222"/>
<text x="846" y="396.8" class="ax" textLength="42.3" lengthAdjust="spacingAndGlyphs">3225.85</text>
<rect x="840" y="422" width="4" height="1" fill="#222"/>
<text x="846" y="426.8" class="ax" textLength="42.3" lengthAdjust="spacingAndGlyphs">3198.89</text>
<rect x="840" y="452" width="4" height="1" fill="#222"/>
<text x="846" y="456.8" class="ax" textLength="42.3" lengthAdjust="spacingAndGlyphs">3171.94</text>
<rect x="840" y="482" width="4" height="1" fill="#222"/>
<text x="846" y="486.8" class="ax" textLength="42.3" lengthAdjust="spacingAndGlyphs">3144.98</text>
<rect x="840" y="512" width="4" height="1" fill="#222"/>
<text x="846" y="516.8" class="ax" textLength="42.3" lengthAdjust="spacingAndGlyphs">3118.02</text>
<rect x="840" y="552" width="4" height="1" fill="#222"/>
<text x="846" y="556.8" class="ax">18.90</text>
<rect x="840" y="582" width="4" height="1" fill="#222"/>
<text x="846" y="586.8" class="ax">1.24</text>
<rect x="840" y="612" width="4" height="1" fill="#222"/>
<text x="846" y="616.8" class="ax">-16.41</text>
<rect x="840" y="642" width="4" height="1" fill="#222"/>
<text x="846" y="646.8" class="ax">-34.07</text>
<rect x="841" y="229.2" width="68.2" height="17.9" fill="#0ba311"/>
<rect x="840" y="238" width="4" height="1" fill="#fff"/>
<text x="846.8" y="243.2" class="ax" style="fill:#fff;font-size:12.5px" textLength="42.5" lengthAdjust="spacingAndGlyphs">3364.72</text>
<text x="21.3" y="113.9" class="inf" fill="#222">开:</text>
<text x="39.6" y="114.3" class="inf" fill="#35a23d" textLength="48" lengthAdjust="spacingAndGlyphs">3380.85</text>
<text x="100.1" y="113.9" class="inf" fill="#222">高:</text>
<text x="118.4" y="114.3" class="inf" fill="#35a23d" textLength="48" lengthAdjust="spacingAndGlyphs">3385.22</text>
<text x="179.1" y="113.9" class="inf" fill="#222">低:</text>
<text x="197.2" y="114.3" class="inf" fill="#35a23d" textLength="48" lengthAdjust="spacingAndGlyphs">3358.15</text>
<text x="258.2" y="113.9" class="inf" fill="#222">收:</text>
<text x="276.2" y="114.3" class="inf" fill="#35a23d" textLength="48.5" lengthAdjust="spacingAndGlyphs">3364.72</text>
<text x="21.3" y="132.4" class="inf3" fill="#e35d8c" textLength="31.5" lengthAdjust="spacingAndGlyphs">MA5:</text>
<text x="59.7" y="132.4" class="inf3" fill="#e35d8c" textLength="47" lengthAdjust="spacingAndGlyphs">3354.37</text>
<text x="120.8" y="132.4" class="inf3" fill="#4fbfdb" textLength="39.5" lengthAdjust="spacingAndGlyphs">MA10:</text>
<text x="167.4" y="132.4" class="inf3" fill="#4fbfdb" textLength="47.6" lengthAdjust="spacingAndGlyphs">3339.23</text>
<text x="228" y="132.4" class="inf3" fill="#ab6acc" textLength="39.5" lengthAdjust="spacingAndGlyphs">MA20:</text>
<text x="273.4" y="132.4" class="inf3" fill="#ab6acc" textLength="48" lengthAdjust="spacingAndGlyphs">3349.69</text>
<text x="21.3" y="538" class="inf2" fill="#e04040">MACD:</text>
<text x="63.2" y="538" class="inf2" fill="#e04040">10.15</text>
<text x="106.5" y="538" class="inf2" fill="#4a98e0">DIFF:</text>
<text x="137.9" y="538" class="inf2" fill="#4a98e0">-1.56</text>
<text x="178" y="538" class="inf2" fill="#f0822e">DEA:</text>
<text x="208.4" y="538" class="inf2" fill="#f0822e">-6.63</text>
</svg>
</body></html>
